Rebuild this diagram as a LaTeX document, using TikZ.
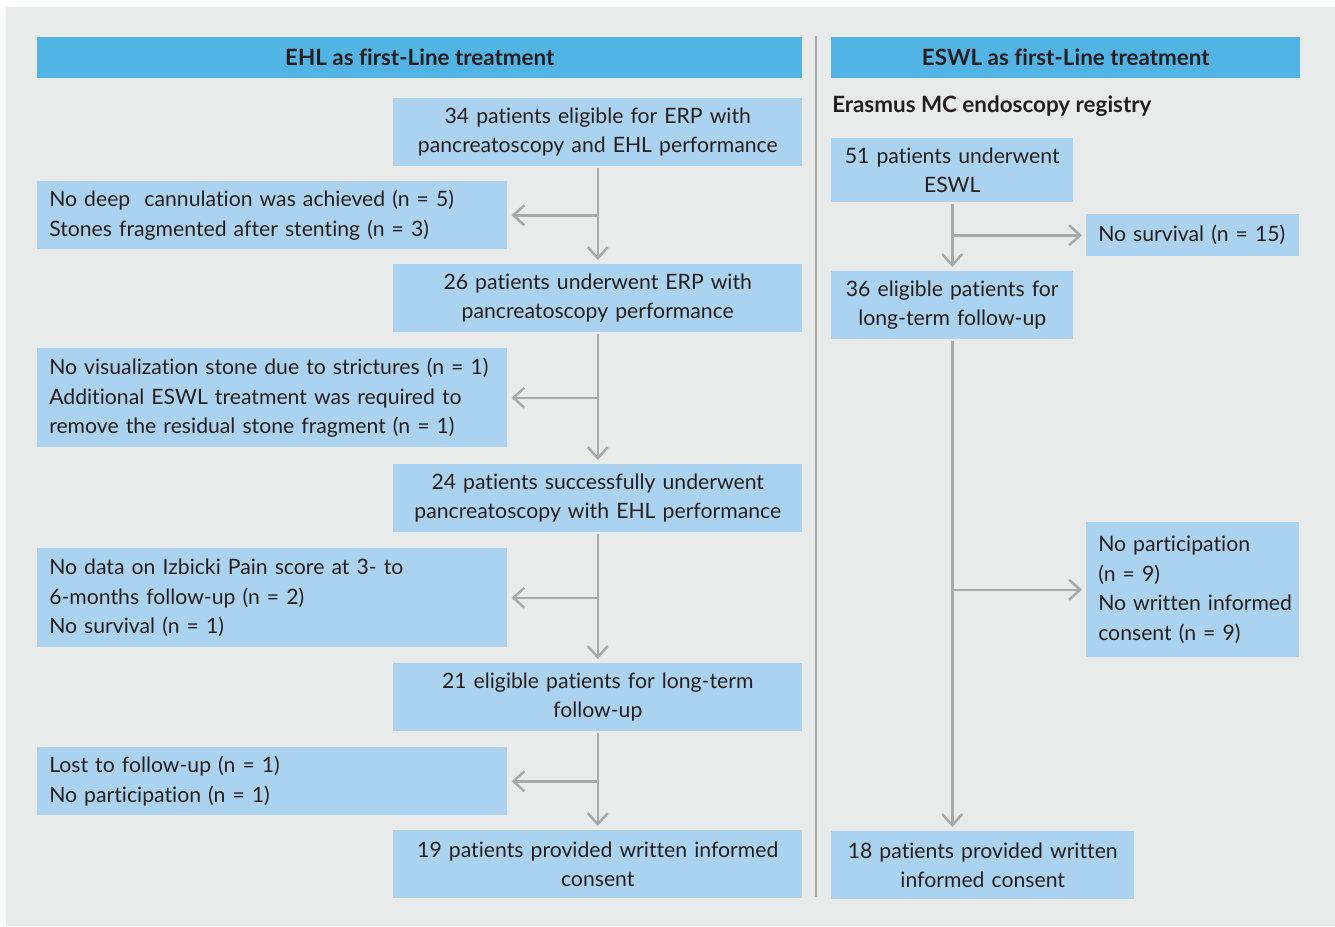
\documentclass[tikz,border=0pt]{standalone}
\usepackage{fontspec}
\setmainfont{Lato}[Ligatures=NoCommon]
\usetikzlibrary{arrows.meta}
\definecolor{headblue}{HTML}{52B3E5}
\definecolor{boxblue}{HTML}{ABD3F0}
\definecolor{bggray}{HTML}{E9EBEB}
\definecolor{linegray}{HTML}{A9A9A9}
\definecolor{textdark}{HTML}{231F20}
\begin{document}
\begin{tikzpicture}[x=1pt, y=-1pt, line width=2.5pt,
		font=\fontsize{21.2}{29.5}\selectfont, text=textdark,
		header/.style={fill=headblue, anchor=north west, inner sep=0pt, minimum height=41pt, font=\fontsize{22.4}{29.5}\selectfont\bfseries},
		flowbox/.style={fill=boxblue, anchor=north west, inner sep=0pt, align=center, minimum height=68pt},
		sidebox/.style={fill=boxblue, anchor=north west, inner xsep=12pt, inner ysep=0pt, align=left},
		arr/.style={draw=linegray, -{Straight Barb[length=11pt, width=20pt]}, shorten >=3pt}]
		\useasboundingbox (0,0) rectangle (1335,926);
		\fill[white] (0,0) rectangle (1335,926);
		\fill[bggray] (6,7) rectangle (1335,926);
		% Kopfzeilen
		\node[header, minimum width=765pt] (headehl) at (36,36) {EHL as first-Line treatment};
		\node[header, minimum width=469pt] (headeswl) at (830,36) {ESWL as first-Line treatment};
		\coordinate (divtop) at (816,36);
		\coordinate (divbot) at (816,897);
		\draw[linegray] (divtop) -- (divbot);
		% EHL Spalte
		\foreach \name/\y/\txt in {a1/97/{34 patients eligible for ERP with\\pancreatoscopy and EHL performance},
				a2/263/{26 patients underwent ERP with\\pancreatoscopy performance},
				a3/463/{24 patients successfully underwent\\pancreatoscopy with EHL performance},
				a4/662/{21 eligible patients for long-term\\follow-up},
				a5/829/{19 patients provided written informed\\consent}} {
			\node[flowbox, minimum width=409pt, text width=409pt] (\name) at (392,\y) {\txt};
		}
		\foreach \name/\y/\h/\txt in {s1/180/68/{No deep\ \ cannulation was achieved (n = 5)\\Stones fragmented after stenting (n = 3)},
				s2/347/99/{No visualization stone due to strictures (n = 1)\\Additional ESWL treatment was required to\\remove the residual stone fragment (n = 1)},
				s3/547/99/{No data on Izbicki Pain score at 3- to\\6-months follow-up (n = 2)\\No survival (n = 1)},
				s4/746/68/{Lost to follow-up (n = 1)\\No participation (n = 1)}} {
			\node[sidebox, text width=446pt, minimum height=\h pt] (\name) at (36,\y) {\txt};
		}
		\foreach \up/\side/\down in {a1/s1/a2, a2/s2/a3, a3/s3/a4, a4/s4/a5} {
			\draw[arr] (\up.south) -- (\down.north);
			\draw[arr] (\up.south |- \side.east) -- (\side.east);
		}
		% ESWL Spalte
		\node[anchor=west, inner sep=0pt, font=\fontsize{22.4}{29.5}\selectfont\bfseries] (registry) at (831,106) {Erasmus MC endoscopy registry};
		\node[flowbox, minimum width=242pt, text width=242pt, minimum height=64pt] (b1) at (830,137) {51 patients underwent\\ESWL};
		\node[flowbox, minimum width=242pt, text width=242pt] (b2) at (830,270) {36 eligible patients for\\long-term follow-up};
		\node[flowbox, minimum width=303pt, text width=303pt] (b3) at (830,830) {18 patients provided written\\informed consent};
		\node[sidebox, text width=189pt, minimum height=42pt] (t1) at (1085,213) {\makebox[189pt][l]{No survival (n = 15)}};
		\node[sidebox, text width=189pt, minimum height=135pt] (t2) at (1085,521) {No participation\\(n = 9)\\\makebox[189pt][l]{No written informed}\\consent (n = 9)};
		\draw[arr] (b1.south) -- (b2.north);
		\draw[arr] (b1.south |- t1.west) -- (t1.west);
		\draw[arr] (b2.south) -- (b2.south |- b3.north);
		\draw[arr] (b2.south |- t2.west) -- (t2.west);
	\end{tikzpicture}
\end{document}
